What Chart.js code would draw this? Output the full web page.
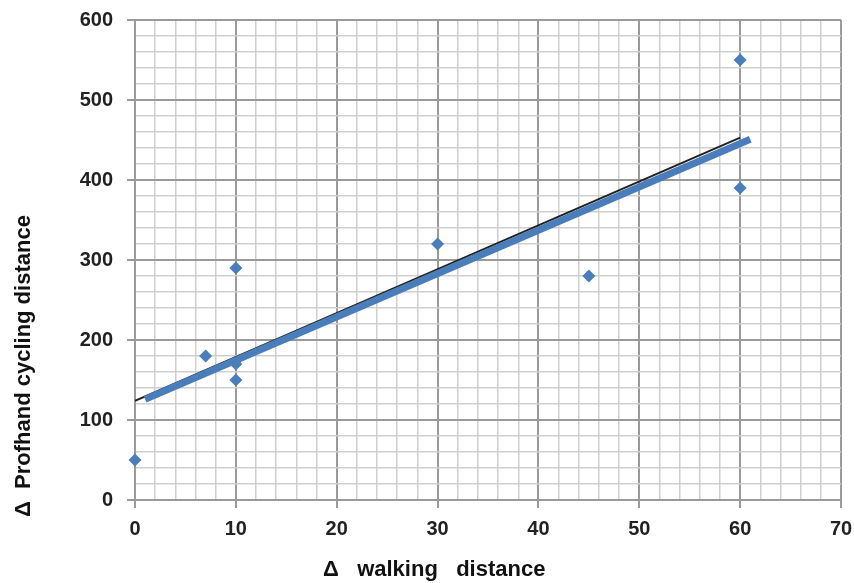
<!DOCTYPE html>
<html>
<head>
<meta charset="utf-8">
<script src="https://cdn.jsdelivr.net/npm/chart.js@4"></script>
<style>
  html, body { margin: 0; padding: 0; background: #fff; }
  #wrap { width: 854px; height: 583px; }
</style>
</head>
<body>
<div id="wrap"><canvas id="grafico"></canvas></div>
<script>
// dados
var walking = [0, 7, 10, 10, 10, 30, 45, 60, 60];
var cycling = [50, 180, 170, 150, 290, 320, 280, 550, 390];

// linha de tendência (preta) e sombra azul
var trendX = [0, 60];
var trendY = [124, 453];
var shadowX = [1, 61];
var shadowY = [126, 451];

var xTitle = 'Δ   walking   distance';
var yTitle = 'Δ  Profhand cycling distance';

var azul = '#4a7ebb';
var fonte = '"Liberation Sans", Arial, sans-serif';

function pares(xs, ys) {
    return xs.map(function (x, i) { return { x: x, y: ys[i] }; });
}

// títulos dos eixos desenhados na posição do original
var titulos = {
    id: 'titulos',
    afterDraw: function (chart) {
        var ctx = chart.ctx;
        ctx.save();
        ctx.fillStyle = '#111';
        ctx.font = 'bold 22px ' + fonte;
        ctx.textAlign = 'left';
        ctx.textBaseline = 'alphabetic';
        ctx.fillText(xTitle, 323, 576);
        ctx.translate(30, 517);
        ctx.rotate(-Math.PI / 2);
        ctx.fillText(yTitle, 0, 0);
        ctx.restore();
    }
};

new Chart(document.getElementById('grafico').getContext('2d'), {
    type: 'scatter',
    data: {
        datasets: [
            {
                label: 'sombra',
                type: 'line',
                data: pares(shadowX, shadowY),
                borderColor: azul,
                borderWidth: 7,
                pointRadius: 0,
                fill: false
            },
            {
                label: 'tendência',
                type: 'line',
                data: pares(trendX, trendY),
                borderColor: '#222',
                borderWidth: 2,
                pointRadius: 0,
                fill: false
            },
            {
                label: 'pontos',
                data: pares(walking, cycling),
                pointStyle: 'rectRot',
                pointRadius: 6.5,
                backgroundColor: azul,
                borderColor: azul,
                borderWidth: 0,
                clip: false
            }
        ]
    },
    options: {
        responsive: true,
        maintainAspectRatio: false,
        animation: false,
        layout: { padding: { top: 20, right: 13, left: 0, bottom: 0 } },
        plugins: {
            legend: { display: false },
            tooltip: { enabled: false }
        },
        scales: {
            x: {
                type: 'linear',
                min: 0,
                max: 70,
                afterFit: function (s) { s.height = 83; s.paddingLeft = 0; s.paddingRight = 0; },
                ticks: {
                    stepSize: 2,
                    autoSkip: false,
                    maxRotation: 0,
                    padding: 9,
                    color: '#222',
                    font: { family: fonte, size: 20, weight: 'bold' },
                    callback: function (v) { return v % 10 === 0 ? v : ''; }
                },
                grid: {
                    color: function (c) { return c.tick && c.tick.value % 10 === 0 ? '#9a9a9a' : '#cfcfcf'; },
                    lineWidth: function (c) { return c.tick && c.tick.value % 10 === 0 ? 2 : 1.5; },
                    tickColor: function (c) { return c.tick && c.tick.value % 10 === 0 ? '#9a9a9a' : 'rgba(0,0,0,0)'; },
                    tickLength: 8
                },
                border: { color: '#9a9a9a', width: 2 }
            },
            y: {
                type: 'linear',
                min: 0,
                max: 600,
                afterFit: function (s) { s.width = 135; s.paddingTop = 0; s.paddingBottom = 0; },
                ticks: {
                    stepSize: 20,
                    autoSkip: false,
                    padding: 14,
                    color: '#222',
                    font: { family: fonte, size: 20, weight: 'bold' },
                    callback: function (v) { return v % 100 === 0 ? v : ''; }
                },
                grid: {
                    color: function (c) { return c.tick && c.tick.value % 100 === 0 ? '#9a9a9a' : '#cfcfcf'; },
                    lineWidth: function (c) { return c.tick && c.tick.value % 100 === 0 ? 2 : 1.5; },
                    tickColor: function (c) { return c.tick && c.tick.value % 100 === 0 ? '#9a9a9a' : 'rgba(0,0,0,0)'; },
                    tickLength: 8
                },
                border: { color: '#9a9a9a', width: 2 }
            }
        }
    },
    plugins: [titulos]
});
</script>
</body>
</html>
